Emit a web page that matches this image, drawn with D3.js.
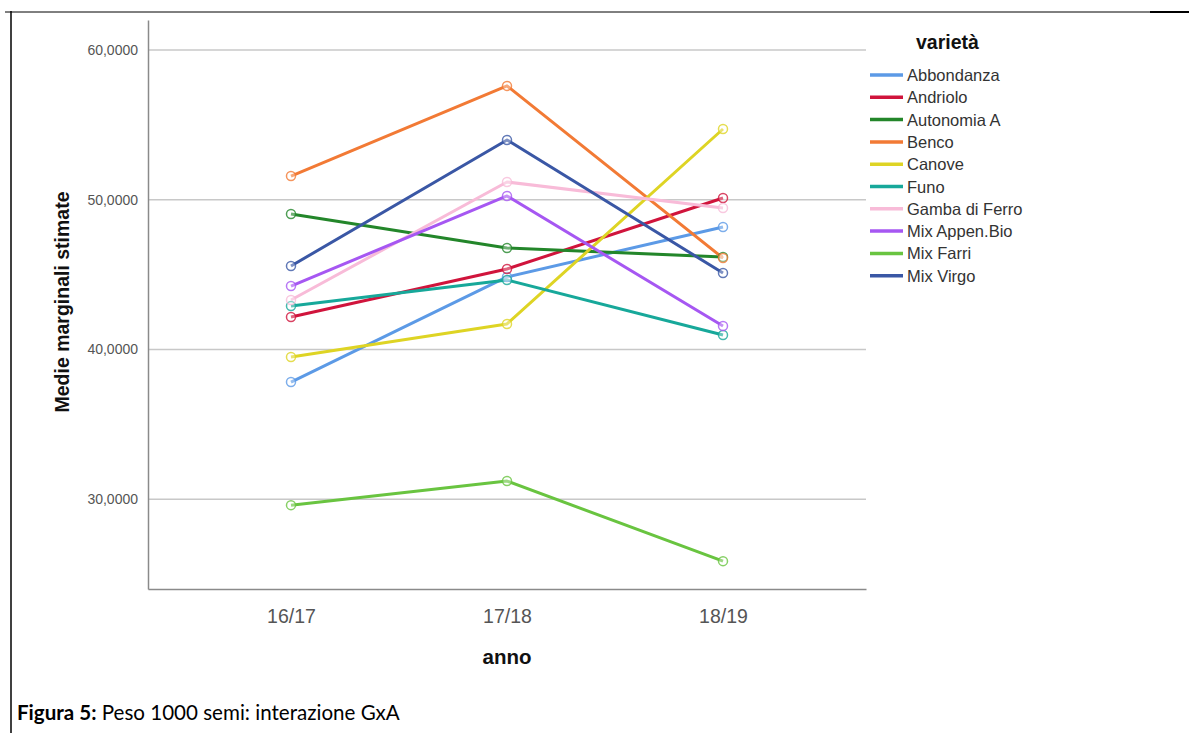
<!DOCTYPE html>
<html><head><meta charset="utf-8">
<script src="https://cdn.jsdelivr.net/npm/d3@7"></script>
<style>body{margin:0;background:#fff;}svg{display:block;}</style>
</head><body>
<svg id="c" width="1189" height="733"></svg>
<script>
const years = ["16/17", "17/18", "18/19"];
const varieties = ["Abbondanza","Andriolo","Autonomia A","Benco","Canove","Funo","Gamba di Ferro","Mix Appen.Bio","Mix Farri","Mix Virgo"];
const colors = ["#5c9ae6","#d0143c","#23862a","#f27a35","#ded424","#17a89a","#f8bbd8","#a657f2","#69c440","#3a57a5"];
const abbondanza = [37.82, 44.84, 48.18];
const andriolo = [42.16, 45.37, 50.11];
const autonomiaA = [49.04, 46.77, 46.17];
const benco = [51.58, 57.60, 46.10];
const canove = [39.49, 41.70, 54.72];
const funo = [42.90, 44.64, 40.96];
const gambaDiFerro = [43.30, 51.18, 49.45];
const mixAppenBio = [44.23, 50.25, 41.56];
const mixFarri = [29.60, 31.21, 25.86];
const mixVirgo = [45.57, 53.99, 45.10];
const yTicks = [30, 40, 50, 60];
const tickLabels = ["30,0000", "40,0000", "50,0000", "60,0000"];

const seriesValues = [abbondanza, andriolo, autonomiaA, benco, canove, funo, gambaDiFerro, mixAppenBio, mixFarri, mixVirgo];
const series = varieties.map((n, i) => ({name: n, color: colors[i], values: seriesValues[i]}));

const FONT = "Liberation Sans, Arial, sans-serif";
const svg = d3.select("#c");
const L = 148, R = 866, T = 20, B = 589;
const x = d3.scalePoint().domain(years).range([L, R]).padding(0.662);
const y = d3.scaleLinear().domain([24, 62]).range([B, T]);

// document frame
svg.append("line").attr("x1", 5).attr("x2", 1150).attr("y1", 12).attr("y2", 12).attr("stroke", "#000").attr("stroke-width", 1);
svg.append("line").attr("x1", 1150).attr("x2", 1189).attr("y1", 12).attr("y2", 12).attr("stroke", "#000").attr("stroke-width", 2);
svg.append("line").attr("x1", 11).attr("x2", 11).attr("y1", 11).attr("y2", 733).attr("stroke", "#000").attr("stroke-width", 1.5);

// gridlines
svg.append("g").selectAll("line").data(yTicks).join("line")
  .attr("x1", L).attr("x2", R).attr("y1", d => y(d)).attr("y2", d => y(d))
  .attr("stroke", "#c8c8c8").attr("stroke-width", 1.5);

// y axis
const yAxis = d3.axisLeft(y).tickValues(yTicks).tickSize(0).tickPadding(10)
  .tickFormat((d, i) => tickLabels[i]);
const gy = svg.append("g").attr("transform", `translate(${L},0)`).call(yAxis);
gy.select(".domain").attr("stroke", "#8a8a8a").attr("stroke-width", 1.5);
gy.selectAll("text").attr("font-family", FONT).attr("font-size", 14).attr("fill", "#555");

// x axis
const xAxis = d3.axisBottom(x).tickSize(0).tickPadding(20);
const gx = svg.append("g").attr("transform", `translate(0,${B})`).call(xAxis);
gx.select(".domain").attr("stroke", "#8a8a8a").attr("stroke-width", 1.5);
gx.selectAll("text").attr("font-family", FONT).attr("font-size", 19.5).attr("fill", "#555");

// axis titles
svg.append("text").attr("transform", "translate(69,302) rotate(-90)").attr("text-anchor", "middle")
  .attr("font-family", FONT).attr("font-weight", "bold").attr("font-size", 19.5).attr("fill", "#111")
  .text("Medie marginali stimate");
svg.append("text").attr("x", x("17/18")).attr("y", 664).attr("text-anchor", "middle")
  .attr("font-family", FONT).attr("font-weight", "bold").attr("font-size", 20.5).attr("fill", "#111")
  .text("anno");

// lines
const line = d3.line().x((d, i) => x(years[i])).y(d => y(d));
const gl = svg.append("g");
series.forEach(s => {
  gl.append("path").attr("d", line(s.values)).attr("fill", "none").attr("stroke", s.color)
    .attr("stroke-width", 3).attr("stroke-linejoin", "round");
});
series.forEach(s => {
  gl.append("g").selectAll("circle").data(s.values).join("circle")
    .attr("cx", (d, i) => x(years[i])).attr("cy", d => y(d)).attr("r", 4.5)
    .attr("fill", "#fff").attr("fill-opacity", 0.35).attr("stroke", s.color).attr("stroke-width", 1.5).attr("stroke-opacity", 0.8);
});

// legend
const lg = svg.append("g");
lg.append("text").attr("x", 916).attr("y", 49).attr("font-family", FONT)
  .attr("font-weight", "bold").attr("font-size", 19.5).attr("fill", "#111").text("varietà");
const li = lg.selectAll("g.item").data(series).join("g").attr("class", "item")
  .attr("transform", (d, i) => `translate(0,${75 + i * 22.3})`);
li.append("line").attr("x1", 870).attr("x2", 903).attr("y1", 0).attr("y2", 0).attr("stroke", d => d.color).attr("stroke-width", 3.5);
li.append("text").attr("x", 907).attr("y", 6).attr("font-family", FONT)
  .attr("font-size", 16.5).attr("fill", "#333").text(d => d.name);

// caption
const cap = svg.append("text").attr("x", 17).attr("y", 720).attr("font-family", "Lato, Open Sans, sans-serif").attr("font-size", 22).attr("fill", "#000");
cap.append("tspan").attr("font-weight", "bold").text("Figura 5:");
cap.append("tspan").text(" Peso 1000 semi: interazione GxA");
const w = cap.node().getComputedTextLength();
if (w > 0) cap.attr("font-size", 22 * 383 / w);
</script>
</body></html>
